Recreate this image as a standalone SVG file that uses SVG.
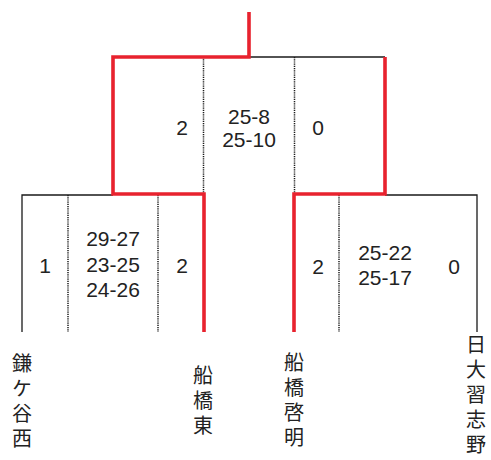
<svg xmlns="http://www.w3.org/2000/svg" width="491" height="460" viewBox="0 0 491 460">
  <style>
    .blk { stroke: #1a1a1a; stroke-width: 1.3; fill: none; }
    .dot { stroke: #1a1a1a; stroke-width: 1.5; stroke-dasharray: 1.2 1; fill: none; }
    .red { stroke: #e8222e; stroke-width: 3.6; fill: none; stroke-linejoin: miter; }
    .num { font-family: "Liberation Sans", Arial, sans-serif; font-size: 21px; fill: #222; text-anchor: middle; }
    .name { font-family: "Noto Sans CJK JP", sans-serif; font-size: 20px; fill: #222; writing-mode: vertical-rl; letter-spacing: 5px; }
  </style>
  <rect width="491" height="460" fill="#ffffff"/>
  <g id="connectors">
    <path class="blk" d="M249 57 H385"/>
    <path class="blk" d="M22 332 V195 H113"/>
    <path class="blk" d="M385 195 H477 V332"/>
    <path class="dot" d="M203.5 57 V194 M294.5 57 V194"/>
    <path class="dot" d="M68 195 V332 M158 195 V332 M339 195 V332"/>
    <path class="red" d="M249 12 V57 H113 V194 H204 V332"/>
    <path class="red" d="M385 57 V194 H294 V332"/>
  </g>
  <g id="final-score">
    <text class="num" x="182" y="134.5">2</text>
    <text class="num" x="249" y="123.5">25-8</text>
    <text class="num" x="249" y="146.5">25-10</text>
    <text class="num" x="318" y="134.5">0</text>
  </g>
  <g id="semi1-score">
    <text class="num" x="45" y="272.5">1</text>
    <text class="num" x="113" y="245.5">29-27</text>
    <text class="num" x="113" y="271.5">23-25</text>
    <text class="num" x="113" y="296.5">24-26</text>
    <text class="num" x="182" y="272.5">2</text>
  </g>
  <g id="semi2-score">
    <text class="num" x="318" y="273.5">2</text>
    <text class="num" x="385" y="259.5">25-22</text>
    <text class="num" x="385" y="284.5">25-17</text>
    <text class="num" x="454" y="273.5">0</text>
  </g>
  <g id="team-kamagayanishi">
    <text class="name" x="22" y="353">鎌ケ谷西</text>
  </g>
  <g id="team-funabashihigashi">
    <text class="name" x="203" y="365">船橋東</text>
  </g>
  <g id="team-funabashikeimei">
    <text class="name" x="294" y="352">船橋啓明</text>
  </g>
  <g id="team-nichidainarashino">
    <text class="name" x="476" y="334">日大習志野</text>
  </g>
</svg>
